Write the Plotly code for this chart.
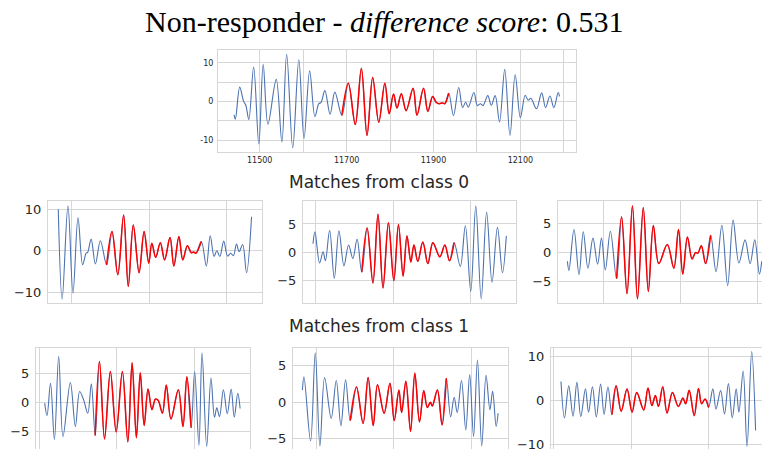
import plotly.graph_objects as go

# ---------------------------------------------------------------------------
# Data: each signal is given by its turning points (sample index, amplitude);
# the highlighted (red) window is given by its first and last sample index.
# ---------------------------------------------------------------------------

# Query: non-responder signal
query_x = [11441, 11444, 11454, 11463, 11468, 11475, 11486, 11498, 11508, 11519,
           11538, 11551, 11562, 11576, 11590, 11602, 11615, 11627, 11636, 11641,
           11650, 11662, 11673, 11689, 11704, 11720, 11734, 11747, 11760, 11774,
           11788, 11798, 11808, 11816, 11826, 11837, 11853, 11862, 11877, 11887,
           11898, 11906, 11913, 11921, 11926, 11935, 11946, 11958, 11967, 11974,
           11980, 11993, 12001, 12008, 12014, 12025, 12033, 12042, 12052, 12064,
           12076, 12088, 12100, 12111, 12118, 12124, 12137, 12149, 12158, 12168,
           12177, 12187, 12190]
query_y = [-3.5, -4.6, 3.7, 0.0, -1.0, -4.7, 8.9, -11.0, 9.6, -5.9,
           5.7, -10.5, 12.2, -12.0, 10.8, -9.6, 7.9, -3.9, -0.6, -0.3,
           2.8, -3.3, 2.4, -3.6, 4.7, -6.0, 8.6, -8.8, 6.2, -5.4,
           4.7, -3.2, 1.9, -1.7, 2.0, -2.4, 3.4, -3.6, 3.4, -2.6,
           1.3, -0.2, -0.6, -0.4, -0.6, 2.1, -3.7, 3.6, -1.6, -0.2,
           -1.5, 2.3, -1.1, -0.6, -1.1, 1.5, -1.0, 1.5, -5.3, 8.3,
           -8.8, 6.9, -4.2, 1.6, 0.3, 0.8, -1.9, 2.2, -1.6, 1.4,
           -1.6, 2.3, 1.3]
query_window = (11689, 11935)

# Matches from class 0 (sample offset within the match)
c0_m1_x = [0, 10, 25, 38, 51, 63, 72, 76, 85, 96, 109, 125, 139, 154, 169, 181, 194,
           209, 222, 234, 242, 252, 264, 275, 289, 299, 312, 322, 334, 344, 350,
           356, 370, 383, 393, 403, 410, 418, 428, 438, 446, 453, 461, 468, 477,
           487, 500]
c0_m1_y = [10.0, -11.7, 10.8, -10.2, 7.9, -3.4, -0.6, -0.4, 2.8, -3.2, 2.4, -3.4,
           4.6, -5.8, 8.6, -8.6, 6.2, -5.3, 4.6, -3.0, 1.8, -1.6, 1.9, -2.2, 3.2,
           -3.7, 3.4, -2.2, 1.2, -0.5, -0.3, -0.6, 2.2, -3.7, 3.6, -1.4, 0.0, -1.4,
           2.3, -1.3, -0.6, -1.2, 1.6, -0.2, 1.5, -5.3, 8.2]
c0_m1_window = (125, 370)

c0_m2_x = [0, 5, 17, 26, 32, 43, 55, 67, 80, 92, 103, 114, 126, 140, 155, 168, 181,
           195, 209, 221, 233, 243, 253, 261, 271, 284, 297, 310, 328, 341, 353,
           365, 381, 394, 408, 421, 435, 449, 463, 477, 490, 500]
c0_m2_y = [1.5, 3.6, -1.9, 0.1, -1.5, 3.9, -4.6, 3.8, -2.4, 1.3, -1.1, 2.3, -3.5,
           4.3, -5.4, 6.7, -6.3, 5.2, -5.0, 4.9, -4.2, 2.9, -1.7, 1.3, -1.6, 1.8,
           -2.0, 1.7, -0.8, 1.3, -1.5, 1.7, -2.5, 4.7, -6.9, 8.2, -8.2, 7.1, -5.3,
           4.4, -3.6, 2.9]
c0_m2_window = (126, 365)

c0_m3_x = [0, 4, 17, 30, 41, 53, 66, 78, 88, 98, 111, 127, 140, 154, 168, 181, 196,
           209, 222, 236, 258, 275, 287, 298, 310, 322, 331, 337, 346, 357, 370,
           384, 399, 414, 428, 443, 459, 472, 484, 496, 502]
c0_m3_y = [-1.5, -3.1, 4.0, -3.8, 3.6, -2.7, 2.5, -2.0, 2.5, -3.0, 3.7, -4.5, 6.2,
           -7.1, 8.1, -8.0, 7.8, -6.7, 4.7, -1.9, 1.4, -2.7, 4.0, -3.7, 2.7, -1.1,
           0.0, -0.1, 1.2, -1.9, 3.0, -3.3, 4.7, -5.7, 5.6, -1.8, 2.2, -1.9, 2.2,
           -3.7, -1.5]
c0_m3_window = (127, 370)

# Matches from class 1
c1_m1_x = [0, 6, 15, 25, 36, 47, 66, 79, 90, 100, 111, 120, 130, 141, 154, 169, 184,
           200, 214, 225, 236, 246, 256, 266, 276, 285, 292, 303, 313, 325, 344,
           356, 366, 377, 386, 397, 405, 417, 428, 437, 443, 450, 460, 470, 480,
           488, 497, 503]
c1_m1_y = [-0.1, -2.2, 3.3, -6.3, 7.9, -5.8, 3.4, -4.1, 1.9, 0.5, -1.8, 3.2, -5.6,
           7.0, -6.2, 5.3, -5.0, 5.3, -6.7, 6.8, -6.0, 5.1, -3.9, 2.3, -1.2, 0.6,
           0.4, -1.8, 3.0, -2.8, 2.2, -4.1, 4.4, -4.3, 5.3, -7.3, 8.5, -7.5, 4.2,
           -2.5, -0.9, -2.4, 2.2, -1.9, 2.3, -2.5, 1.6, -1.0]
c1_m1_window = (130, 377)

c1_m2_x = [0, 4, 21, 33, 45, 57, 74, 87, 99, 111, 123, 139, 156, 169, 182, 193, 210,
           225, 236, 248, 255, 266, 278, 289, 301, 312, 321, 329, 334, 347, 359,
           370, 381, 390, 398, 409, 420, 430, 440, 450, 461, 472, 482, 489, 498,
           503]
c1_m2_y = [1.7, 3.5, -5.3, 6.8, -6.0, 3.4, -2.2, 3.0, -3.2, 3.1, -2.5, 2.1, -2.9,
           3.4, -3.2, 2.4, -1.5, 2.6, -2.5, 1.7, -1.4, 2.9, -4.0, 4.0, -2.7, 1.6,
           -0.7, 0.0, -0.5, 1.7, -3.1, 3.3, -2.0, 0.7, -1.4, 3.0, -3.8, 3.8, -4.7,
           5.8, -6.0, 3.7, -1.0, 1.5, -3.3, -1.5]
c1_m2_window = (123, 370)

c1_m3_x = [0, 9, 20, 31, 41, 51, 63, 71, 81, 91, 102, 111, 121, 131, 142, 155, 170,
           183, 195, 213, 224, 234, 243, 251, 262, 273, 287, 302, 314, 321, 330,
           343, 354, 362, 371, 380, 391, 399, 411, 421, 431, 441, 451, 458, 469,
           479, 491, 501]
c1_m3_y = [4.3, -4.0, 3.3, -3.6, 4.1, -3.7, 2.6, -2.7, 3.1, -3.8, 3.7, -3.2, 3.1,
           -3.3, 3.3, -2.5, 2.6, -2.7, 1.8, -2.2, 2.8, -1.2, 1.1, -1.4, 3.1, -2.9,
           1.8, -1.4, 0.5, -0.8, 2.3, -3.5, 2.7, -0.8, 0.3, -1.6, 2.6, -2.0, 2.2,
           -3.1, 3.8, -4.0, 2.6, -2.7, 6.7, -10.5, 11.1, -6.9]
c1_m3_window = (131, 380)

title_text = "Non-responder - <i>difference score</i>: 0.531"
row_titles = ["Matches from class 0", "Matches from class 1"]

# ---------------------------------------------------------------------------
# Figure
# ---------------------------------------------------------------------------
W, H = 762, 452
BLUE = "#4c72b0"
RED = "#ff0000"
GRID = "#d6d6d6"
TXT = "#262626"


def px_x(a, b):
    return [a / W, min(b / W, 1.0)]


def px_y(top, bottom):
    return [max(1 - bottom / H, 0.0), 1 - top / H]


# panel geometry: x-domain px, y-domain px (top, bottom), x range, y range,
# y tick values, vertical grid origin, frame sides
panels = [
    dict(xs=query_x, ys=query_y, win=query_window,
         dx=(218, 576), dy=(50, 153), xr=(11404, 12228), yr=(-13.1, 13.4)),
    dict(xs=c0_m1_x, ys=c0_m1_y, win=c0_m1_window,
         dx=(48, 262), dy=(202, 305), xr=(-26.6, 527), yr=(-12.6, 12.06),
         yt=[-10, 0, 10], g0=35, right=True, bottom=True),
    dict(xs=c0_m2_x, ys=c0_m2_y, win=c0_m2_window,
         dx=(303, 516), dy=(202, 305), xr=(-25.9, 525), yr=(-8.95, 9.12),
         yt=[-5, 0, 5], g0=7, right=True, bottom=True),
    dict(xs=c0_m3_x, ys=c0_m3_y, win=c0_m3_window,
         dx=(558, 762), dy=(202, 305), xr=(-24.3, 502.7), yr=(-8.7, 8.97),
         yt=[-5, 0, 5], g0=92, right=False, bottom=True),
    dict(xs=c1_m1_x, ys=c1_m1_y, win=c1_m1_window,
         dx=(36, 250), dy=(350, 452), xr=(-22.4, 528.5), yr=(-7.92, 9.37),
         yt=[-5, 0, 5], g0=-14, right=True, bottom=False),
    dict(xs=c1_m2_x, ys=c1_m2_y, win=c1_m2_window,
         dx=(293, 508), dy=(350, 452), xr=(-24.2, 528.5), yr=(-6.41, 7.5),
         yt=[-5, 0, 5], g0=35, right=True, bottom=False),
    dict(xs=c1_m3_x, ys=c1_m3_y, win=c1_m3_window,
         dx=(551, 762), dy=(350, 452), xr=(-25.7, 517.5), yr=(-11.1, 12.0),
         yt=[-10, 0, 10], g0=-19, right=False, bottom=False, clip_lbl=True),
]

fig = go.Figure()
layout = {}

for i, p in enumerate(panels):
    n = "" if i == 0 else str(i + 1)
    xa, ya = "x" + n, "y" + n
    lo, hi = p["win"]
    rx = [x for x in p["xs"] if lo <= x <= hi]
    ry = [y for x, y in zip(p["xs"], p["ys"]) if lo <= x <= hi]

    fig.add_trace(go.Scatter(x=p["xs"], y=p["ys"], mode="lines", xaxis=xa, yaxis=ya,
                             line=dict(color=BLUE, width=1.1, shape="spline", smoothing=1.0),
                             hoverinfo="skip", showlegend=False))
    fig.add_trace(go.Scatter(x=rx, y=ry, mode="lines", xaxis=xa, yaxis=ya,
                             line=dict(color=RED, width=1.5, shape="spline", smoothing=1.0),
                             hoverinfo="skip", showlegend=False))

    xaxis = dict(domain=px_x(*p["dx"]), range=list(p["xr"]), anchor=ya,
                 showgrid=True, gridcolor=GRID, gridwidth=1, zeroline=False,
                 showline=True, linecolor=GRID, linewidth=1, ticks="")
    yaxis = dict(domain=px_y(*p["dy"]), range=list(p["yr"]), anchor=xa,
                 showgrid=True, gridcolor=GRID, gridwidth=1, zeroline=False,
                 showline=True, linecolor=GRID, linewidth=1, ticks="")
    if p.get("clip_lbl"):
        # lowest label runs off the bottom edge and is cut there
        yaxis.update(ticklabeloverflow="allow")

    if i == 0:
        xaxis.update(tickmode="array",
                     tickvals=[11500, 11600, 11700, 11800, 11900, 12000, 12100, 12200],
                     ticktext=["11500", "", "11700", "", "11900", "", "12100", ""],
                     tickfont=dict(family="DejaVu Sans", size=8, color=TXT),
                     mirror=True)
        yaxis.update(tickmode="array", tickvals=[-10, -5, 0, 5, 10],
                     ticktext=["-10", "", "0", "", "10"],
                     tickfont=dict(family="DejaVu Sans", size=8, color=TXT),
                     mirror=True, ticklabelstandoff=2)
    else:
        xaxis.update(tick0=p["g0"], dtick=200, showticklabels=False)
        if p["bottom"]:
            xaxis.update(mirror=True)
        else:
            xaxis.update(side="top", mirror=False)
        yaxis.update(tickmode="array", tickvals=p["yt"],
                     ticktext=[("\u2212" + str(-v)) if v < 0 else str(v) for v in p["yt"]],
                     tickfont=dict(family="DejaVu Sans", size=13, color=TXT),
                     mirror=p["right"], ticklabelstandoff=3)

    layout["xaxis" + n] = xaxis
    layout["yaxis" + n] = yaxis

annotations = [
    dict(text=title_text, x=384 / W, y=1 - 22 / H, xref="paper", yref="paper",
         xanchor="center", yanchor="middle", showarrow=False,
         font=dict(family="Liberation Serif", size=30, color="#000000")),
    dict(text=row_titles[0], x=379 / W, y=1 - 183 / H, xref="paper", yref="paper",
         xanchor="center", yanchor="middle", showarrow=False,
         font=dict(family="DejaVu Sans", size=17, color=TXT)),
    dict(text=row_titles[1], x=379 / W, y=1 - 328 / H, xref="paper", yref="paper",
         xanchor="center", yanchor="middle", showarrow=False,
         font=dict(family="DejaVu Sans", size=17, color=TXT)),
]

fig.update_layout(width=W, height=H, margin=dict(l=0, r=0, t=0, b=0),
                  paper_bgcolor="white", plot_bgcolor="white",
                  annotations=annotations, showlegend=False, **layout)

fig.write_html("out.html", config={"displayModeBar": False})
